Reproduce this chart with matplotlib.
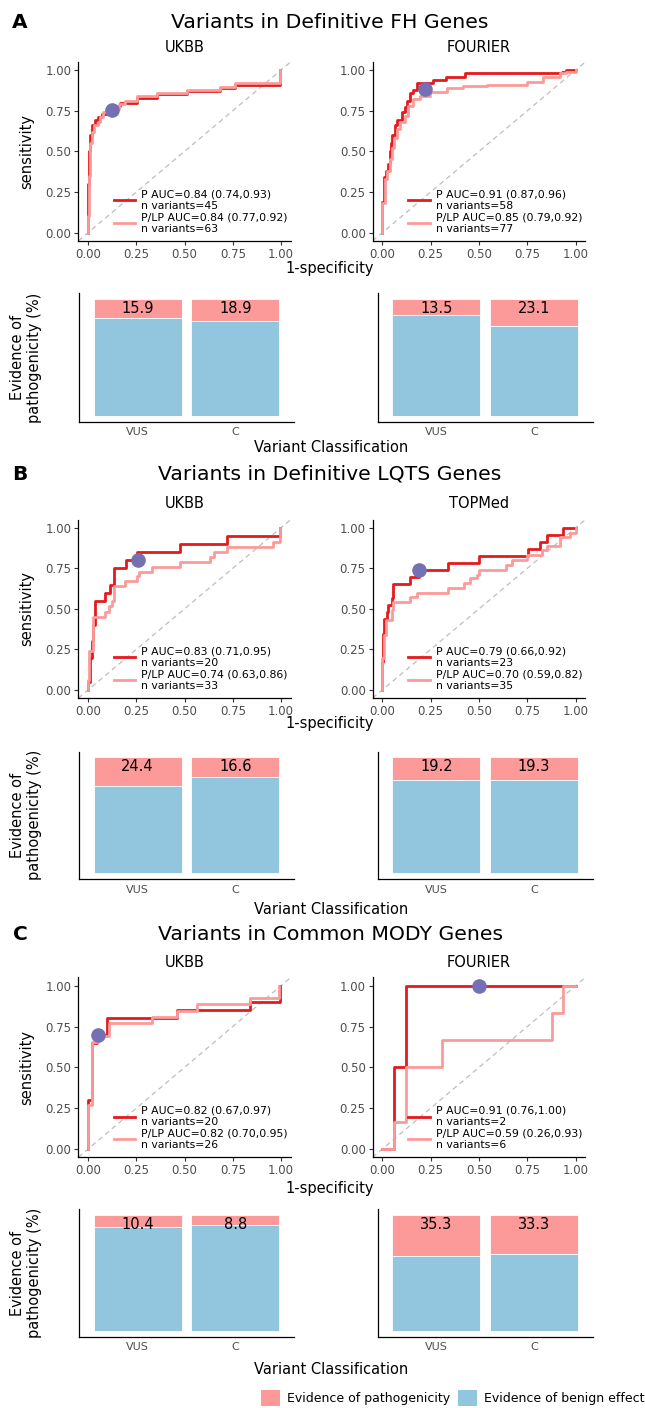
import numpy as np
import matplotlib
matplotlib.use("Agg")
import matplotlib.pyplot as plt
from matplotlib.patches import Patch

# ---- data ----
# ROC step curves (fpr, tpr), P = pathogenic only, LP = P/LP
a_ukbb_p_fpr = [0, 0, 0.005, 0.01, 0.02, 0.035, 0.05, 0.07, 0.10, 0.13, 0.155, 0.168, 0.254, 0.357, 0.513, 0.686, 0.763, 0.995]
a_ukbb_p_tpr = [0, 0.30, 0.50, 0.60, 0.66, 0.69, 0.71, 0.73, 0.74, 0.76, 0.78, 0.80, 0.83, 0.85, 0.87, 0.89, 0.91, 1.0]
a_ukbb_lp_fpr = [0, 0, 0.005, 0.01, 0.02, 0.03, 0.05, 0.06, 0.08, 0.12, 0.16, 0.19, 0.254, 0.357, 0.513, 0.686, 0.763, 0.995]
a_ukbb_lp_tpr = [0, 0.10, 0.35, 0.55, 0.62, 0.66, 0.68, 0.71, 0.74, 0.76, 0.79, 0.81, 0.84, 0.86, 0.875, 0.895, 0.92, 1.0]

a_four_p_fpr = [0, 0, 0.01, 0.017, 0.03, 0.04, 0.045, 0.052, 0.065, 0.078, 0.10, 0.117, 0.129, 0.143, 0.157, 0.178, 0.264, 0.329, 0.429, 0.93, 0.95, 1.0]
a_four_p_tpr = [0, 0.19, 0.34, 0.38, 0.42, 0.50, 0.55, 0.60, 0.66, 0.69, 0.74, 0.77, 0.81, 0.86, 0.88, 0.92, 0.94, 0.96, 0.98, 0.99, 1.0, 1.0]
a_four_lp_fpr = [0, 0, 0.012, 0.022, 0.04, 0.048, 0.06, 0.074, 0.09, 0.117, 0.134, 0.16, 0.195, 0.246, 0.333, 0.419, 0.54, 0.747, 0.833, 0.92, 0.95, 1.0]
a_four_lp_tpr = [0, 0.18, 0.33, 0.38, 0.45, 0.52, 0.58, 0.64, 0.68, 0.72, 0.78, 0.82, 0.84, 0.865, 0.887, 0.90, 0.908, 0.928, 0.955, 0.98, 0.99, 1.0]

b_ukbb_p_fpr = [0, 0, 0.012, 0.02, 0.025, 0.038, 0.09, 0.115, 0.133, 0.198, 0.253, 0.478, 0.719, 0.995]
b_ukbb_p_tpr = [0, 0.05, 0.20, 0.30, 0.40, 0.55, 0.60, 0.65, 0.75, 0.80, 0.85, 0.90, 0.95, 1.0]
b_ukbb_lp_fpr = [0, 0, 0.005, 0.024, 0.09, 0.107, 0.124, 0.133, 0.193, 0.253, 0.262, 0.331, 0.478, 0.633, 0.65, 0.719, 0.96, 0.995]
b_ukbb_lp_tpr = [0, 0.06, 0.24, 0.45, 0.48, 0.52, 0.55, 0.64, 0.67, 0.70, 0.73, 0.76, 0.79, 0.82, 0.85, 0.88, 0.91, 1.0]

b_top_p_fpr = [0, 0, 0.005, 0.01, 0.022, 0.028, 0.05, 0.057, 0.143, 0.19, 0.34, 0.50, 0.755, 0.815, 0.85, 0.935, 1.0]
b_top_p_tpr = [0, 0.174, 0.348, 0.435, 0.478, 0.522, 0.565, 0.652, 0.696, 0.739, 0.783, 0.826, 0.870, 0.913, 0.957, 1.0, 1.0]
b_top_lp_fpr = [0, 0, 0.01, 0.02, 0.048, 0.057, 0.143, 0.178, 0.34, 0.42, 0.455, 0.49, 0.50, 0.64, 0.67, 0.75, 0.825, 0.85, 0.92, 0.97, 1.0]
b_top_lp_tpr = [0, 0.20, 0.34, 0.43, 0.49, 0.54, 0.57, 0.60, 0.63, 0.66, 0.69, 0.71, 0.74, 0.77, 0.80, 0.83, 0.86, 0.89, 0.94, 0.97, 1.0]

c_ukbb_p_fpr = [0, 0, 0.02, 0.045, 0.10, 0.46, 0.841, 0.995]
c_ukbb_p_tpr = [0, 0.30, 0.65, 0.70, 0.80, 0.85, 0.90, 1.0]
c_ukbb_lp_fpr = [0, 0, 0.02, 0.05, 0.107, 0.33, 0.46, 0.565, 0.841, 0.99]
c_ukbb_lp_tpr = [0, 0.269, 0.654, 0.692, 0.769, 0.808, 0.846, 0.885, 0.923, 1.0]

c_four_p_fpr = [0, 0.06, 0.125, 1.0]
c_four_p_tpr = [0, 0.50, 1.0, 1.0]
c_four_lp_fpr = [0, 0.06, 0.125, 0.31, 0.875, 0.936, 1.0]
c_four_lp_tpr = [0, 0.167, 0.50, 0.667, 0.833, 1.0, 1.0]

# optimal cut-off points (fpr, tpr)
cut_points = [[(0.124, 0.755), (0.222, 0.881)],
              [(0.259, 0.80), (0.191, 0.739)],
              [(0.05, 0.70), (0.50, 1.0)]]

legend_labels = [
    [["P AUC=0.84 (0.74,0.93)\nn variants=45", "P/LP AUC=0.84 (0.77,0.92)\nn variants=63"],
     ["P AUC=0.91 (0.87,0.96)\nn variants=58", "P/LP AUC=0.85 (0.79,0.92)\nn variants=77"]],
    [["P AUC=0.83 (0.71,0.95)\nn variants=20", "P/LP AUC=0.74 (0.63,0.86)\nn variants=33"],
     ["P AUC=0.79 (0.66,0.92)\nn variants=23", "P/LP AUC=0.70 (0.59,0.82)\nn variants=35"]],
    [["P AUC=0.82 (0.67,0.97)\nn variants=20", "P/LP AUC=0.82 (0.70,0.95)\nn variants=26"],
     ["P AUC=0.91 (0.76,1.00)\nn variants=2", "P/LP AUC=0.59 (0.26,0.93)\nn variants=6"]],
]

# % of variants with evidence of pathogenicity, per classification
classes = ["VUS", "C"]
path_pct = [[[15.9, 18.9], [13.5, 23.1]],
            [[24.4, 16.6], [19.2, 19.3]],
            [[10.4, 8.8], [35.3, 33.3]]]

letters = ["A", "B", "C"]
titles = ["Variants in Definitive FH Genes", "Variants in Definitive LQTS Genes",
          "Variants in Common MODY Genes"]
cohorts = [["UKBB", "FOURIER"], ["UKBB", "TOPMed"], ["UKBB", "FOURIER"]]

roc_data = [
    [(a_ukbb_p_fpr, a_ukbb_p_tpr, a_ukbb_lp_fpr, a_ukbb_lp_tpr),
     (a_four_p_fpr, a_four_p_tpr, a_four_lp_fpr, a_four_lp_tpr)],
    [(b_ukbb_p_fpr, b_ukbb_p_tpr, b_ukbb_lp_fpr, b_ukbb_lp_tpr),
     (b_top_p_fpr, b_top_p_tpr, b_top_lp_fpr, b_top_lp_tpr)],
    [(c_ukbb_p_fpr, c_ukbb_p_tpr, c_ukbb_lp_fpr, c_ukbb_lp_tpr),
     (c_four_p_fpr, c_four_p_tpr, c_four_lp_fpr, c_four_lp_tpr)],
]

RED = "#E41A1C"
PINK = "#FB9A99"
BLUE = "#92C5DE"
PURPLE = "#7570B3"
GREY = "#4D4D4D"

W, H = 645, 1408
fig = plt.figure(figsize=(W / 100, H / 100), dpi=100)

# pixel rows of each panel: title, subtitle, roc top/bottom, 1-spec, bar top/bottom, x label
rows = [
    dict(title=23, sub=47, roc=(61.9, 240.8), spec=269, bar=(293.2, 421.9), cls=448),
    dict(title=474, sub=504, roc=(519.6, 698.1), spec=723, bar=(751.5, 879.1), cls=909),
    dict(title=935, sub=962.5, roc=(977.5, 1157.2), spec=1188, bar=(1209.2, 1336.8), cls=1369),
]
roc_cols = [(78.4, 290.7), (372.6, 585.4)]
bar_cols = [(79, 294), (377.8, 592.6)]


def px_axes(x0, x1, y0, y1):
    return fig.add_axes([x0 / W, 1 - y1 / H, (x1 - x0) / W, (y1 - y0) / H])


def ftext(x, y, s, **kw):
    fig.text(x / W, 1 - y / H, s, ha=kw.pop("ha", "center"), va=kw.pop("va", "center"), **kw)


def style(ax):
    for s in ["top", "right"]:
        ax.spines[s].set_visible(False)
    for s in ["left", "bottom"]:
        ax.spines[s].set_linewidth(0.9)
        ax.spines[s].set_color("black")


def draw_roc(ax, curves, cut, labels):
    p_fpr, p_tpr, lp_fpr, lp_tpr = curves
    ax.plot([-0.05, 1.05], [-0.05, 1.05], ls=(0, (4, 3)), color="#BEBEBE", lw=0.9)
    ax.plot(p_fpr, p_tpr, drawstyle="steps-post", color=RED, lw=2, label=labels[0])
    ax.plot(lp_fpr, lp_tpr, drawstyle="steps-post", color=PINK, lw=2, label=labels[1])
    ax.plot([cut[0]], [cut[1]], "o", ms=9.5, color=PURPLE, zorder=5)
    ax.set_xlim(-0.05, 1.05)
    ax.set_ylim(-0.05, 1.05)
    ticks = [0, 0.25, 0.5, 0.75, 1.0]
    ax.set_xticks(ticks, [f"{t:.2f}" for t in ticks])
    ax.set_yticks(ticks, [f"{t:.2f}" for t in ticks])
    ax.tick_params(length=3, width=0.8, color="#333333", labelcolor=GREY, labelsize=8.5, pad=2)
    style(ax)
    ax.legend(loc="lower left", bbox_to_anchor=(0.166, 0.04), frameon=False, fontsize=7.8,
              handlelength=2.0, handletextpad=0.55, labelspacing=0.12, borderpad=0,
              borderaxespad=0)


def draw_bars(ax, pct):
    path = np.array(pct) / 100
    benign = 1 - path
    x = np.arange(1, len(classes) + 1)
    ax.bar(x, benign, width=0.9, color=BLUE, edgecolor="white", lw=0.6)
    ax.bar(x, path, bottom=benign, width=0.9, color=PINK, edgecolor="white", lw=0.6)
    for xi, v in zip(x, pct):
        ax.text(xi, 0.92, f"{v:.1f}", ha="center", va="center", fontsize=10.5, color="black")
    ax.set_xlim(0.4, 2.6)
    ax.set_ylim(-0.05, 1.05)
    ax.set_xticks(x, classes)
    ax.set_yticks([])
    ax.tick_params(axis="x", length=0, labelcolor=GREY, labelsize=8, pad=4)
    style(ax)


for i, r in enumerate(rows):
    ftext(20, r["title"], letters[i], fontsize=14.5, fontweight="bold")
    ftext(330, r["title"], titles[i], fontsize=14.7)
    for j in range(2):
        x0, x1 = roc_cols[j]
        ax = px_axes(x0, x1, *r["roc"])
        draw_roc(ax, roc_data[i][j], cut_points[i][j], legend_labels[i][j])
        ftext((x0 + x1) / 2, r["sub"], cohorts[i][j], fontsize=10.5)
        bx0, bx1 = bar_cols[j]
        bax = px_axes(bx0, bx1, *r["bar"])
        draw_bars(bax, path_pct[i][j])
    ftext(26.7, sum(r["roc"]) / 2, "sensitivity", fontsize=10.5, rotation=90)
    ftext(330, r["spec"], "1-specificity", fontsize=10.5)
    ftext(26, sum(r["bar"]) / 2, "Evidence of\npathogenicity (%)", fontsize=10.5,
          rotation=90, multialignment="center", linespacing=1.25)
    ftext(331, r["cls"], "Variant Classification", fontsize=10.5)

handles = [Patch(facecolor=PINK, edgecolor="none"), Patch(facecolor=BLUE, edgecolor="none")]
fig.legend(handles, ["Evidence of pathogenicity", "Evidence of benign effect"],
           loc="center left", bbox_to_anchor=(261 / W, 1 - 1398 / H), ncol=2, frameon=False,
           fontsize=9, handlelength=1.5, handleheight=1.5, handletextpad=0.6,
           columnspacing=0.6, borderpad=0, borderaxespad=0)

fig.savefig("out.png", dpi=100)
